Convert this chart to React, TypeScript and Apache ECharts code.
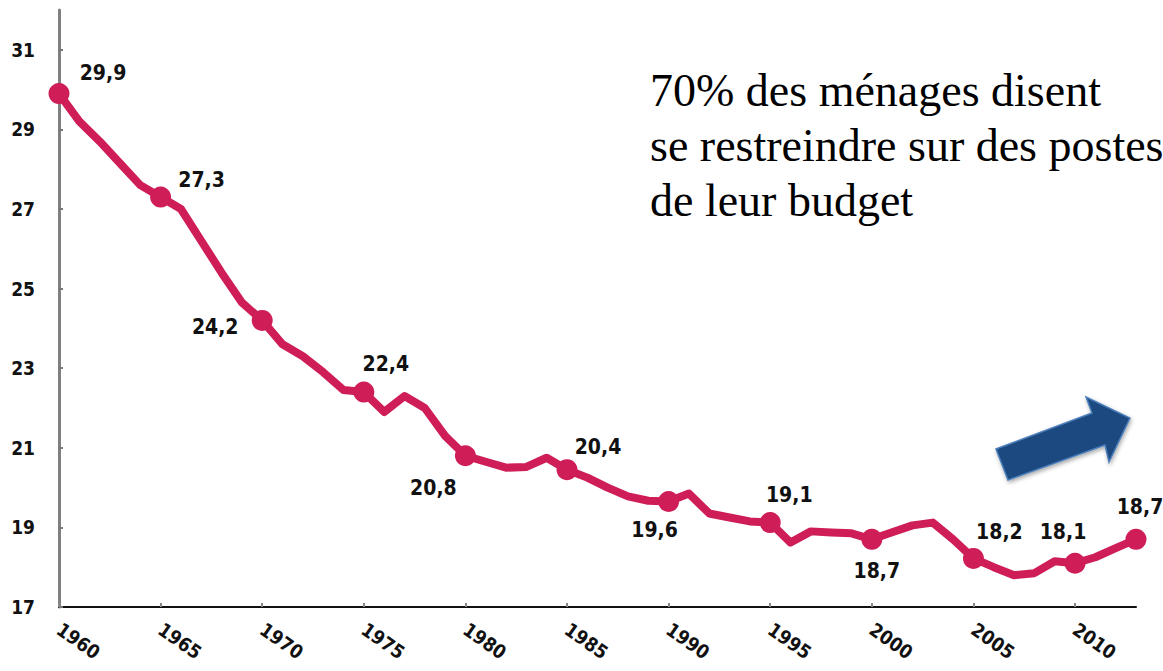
import React, { useEffect, useRef } from "react";
import * as echarts from "echarts";

// Years (x) and share values (y, %)
const years = [
  1960, 1961, 1962, 1963, 1964, 1965, 1966, 1967, 1968, 1969,
  1970, 1971, 1972, 1973, 1974, 1975, 1976, 1977, 1978, 1979,
  1980, 1981, 1982, 1983, 1984, 1985, 1986, 1987, 1988, 1989,
  1990, 1991, 1992, 1993, 1994, 1995, 1996, 1997, 1998, 1999,
  2000, 2001, 2002, 2003, 2004, 2005, 2006, 2007, 2008, 2009,
  2010, 2011, 2012, 2013,
];
const shares = [
  29.9, 29.2, 28.7, 28.15, 27.6, 27.3, 27.0, 26.2, 25.4, 24.65,
  24.2, 23.6, 23.3, 22.9, 22.45, 22.4, 21.9, 22.3, 22.0, 21.3,
  20.8, 20.65, 20.5, 20.52, 20.75, 20.45, 20.25, 20.0, 19.78, 19.67,
  19.65, 19.85, 19.35, 19.25, 19.15, 19.12, 18.62, 18.9, 18.87, 18.85,
  18.7, 18.88, 19.05, 19.12, 18.7, 18.22, 18.0, 17.8, 17.85, 18.15,
  18.1, 18.25, 18.48, 18.7,
];
const markerYears = [1960, 1965, 1970, 1975, 1980, 1985, 1990, 1995, 2000, 2005, 2010, 2013];
const markerLabels = ["29,9", "27,3", "24,2", "22,4", "20,8", "20,4", "19,6", "19,1", "18,7", "18,2", "18,1", "18,7"];
const yTicks = [17, 19, 21, 23, 25, 27, 29, 31];
const xTicks = [1960, 1965, 1970, 1975, 1980, 1985, 1990, 1995, 2000, 2005, 2010];
const noteLines = ["70% des ménages disent", "se restreindre sur des postes", "de leur budget"];

// Layout: label offsets (px) relative to each marker
const labelOffsets: [number, number][] = [
  [44, -21], [41, -17], [-47, 7], [22, -28], [-32, 32], [31, -23],
  [-14, 28], [19, -28], [5, 32], [26, -26], [-12, -31], [4, -32],
];

const LINE_COLOR = "#cf1d58";
const NARROW = "'DejaVu Sans Condensed', 'DejaVu Sans', sans-serif";

export default function App() {
  const ref = useRef<HTMLDivElement>(null);

  useEffect(() => {
    if (!ref.current) return;
    const chart = echarts.init(ref.current, null, { renderer: "svg" });

    const lineData = years.map((y, i) => [y, shares[i]]);
    const markerData = markerYears.map((y, k) => ({
      value: [y, shares[years.indexOf(y)]],
      label: { offset: labelOffsets[k] },
    }));

    chart.setOption({
      animation: false,
      backgroundColor: "#ffffff",
      grid: { left: 59, right: 27, top: 10, bottom: 64, containLabel: false },
      xAxis: {
        type: "value",
        min: 1960,
        max: 2013,
        interval: 5,
        axisLine: { show: true, lineStyle: { color: "#111", width: 2 } },
        axisTick: {
          show: true,
          inside: true,
          length: 4,
          customValues: xTicks,
          lineStyle: { color: "#888", width: 2 },
        },
        axisLabel: {
          customValues: xTicks,
          rotate: -35,
          margin: 20,
          color: "#111",
          fontFamily: NARROW,
          fontWeight: "bold",
          fontSize: 19,
          formatter: (v: number) => (xTicks.includes(v) ? String(v) : ""),
        },
        splitLine: { show: false },
      },
      yAxis: {
        type: "value",
        min: 17,
        max: 32,
        interval: 2,
        axisLine: { show: true, lineStyle: { color: "#808080", width: 3 } },
        axisTick: {
          show: true,
          inside: true,
          length: 4,
          customValues: yTicks,
          lineStyle: { color: "#777", width: 2 },
        },
        axisLabel: {
          customValues: yTicks,
          margin: 24,
          color: "#111",
          fontFamily: NARROW,
          fontWeight: "bold",
          fontSize: 19,
          formatter: (v: number) => (yTicks.includes(v) ? String(v) : ""),
        },
        splitLine: { show: false },
      },
      series: [
        {
          type: "line",
          data: lineData,
          symbol: "none",
          smooth: false,
          lineStyle: { color: LINE_COLOR, width: 8, cap: "round", join: "round" },
          z: 2,
        },
        {
          type: "scatter",
          data: markerData,
          symbol: "circle",
          symbolSize: 21,
          itemStyle: { color: LINE_COLOR, opacity: 1 },
          z: 3,
          label: {
            show: true,
            position: "inside",
            align: "center",
            verticalAlign: "middle",
            color: "#111",
            fontFamily: NARROW,
            fontWeight: "bold",
            fontSize: 21,
            formatter: (p: any) => markerLabels[p.dataIndex],
          },
        },
      ],
      graphic: [
        {
          type: "text",
          left: 650,
          top: 63,
          style: {
            text: noteLines.join("\n"),
            fill: "#000",
            font: "46px 'Liberation Serif', 'Times New Roman', serif",
            lineHeight: 55,
          },
        },
        {
          type: "polygon",
          shape: {
            points: [
              [996, 449], [1092, 413], [1086, 397], [1130, 418],
              [1109, 462], [1105, 445], [1008, 480],
            ],
          },
          style: {
            fill: "#1f4a80",
            stroke: "#4a7ebb",
            lineWidth: 1.5,
            shadowBlur: 4,
            shadowColor: "rgba(0,0,0,0.35)",
            shadowOffsetX: 1,
            shadowOffsetY: 2,
          },
        },
      ],
    });

    return () => chart.dispose();
  }, []);

  return (
    <div
      ref={ref}
      style={{ position: "fixed", left: 0, top: 0, width: 1163, height: 671, background: "#fff" }}
    />
  );
}
